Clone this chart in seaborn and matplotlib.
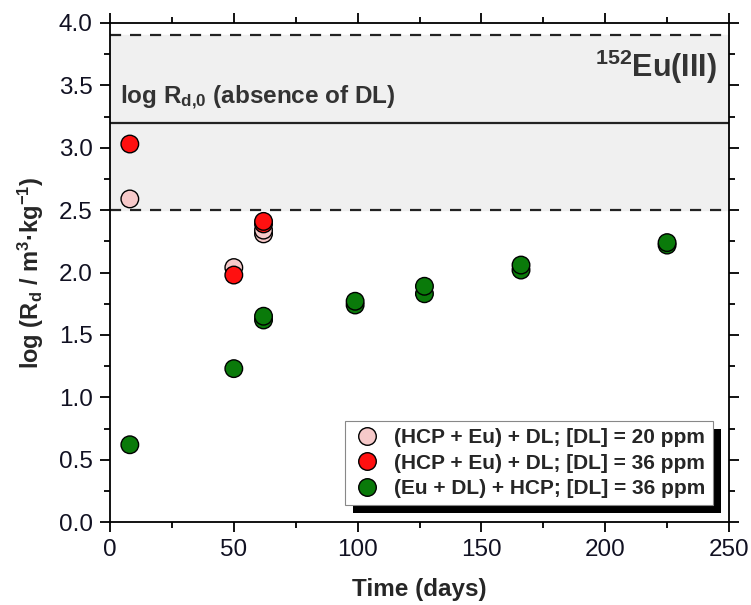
import numpy as np
import pandas as pd
import matplotlib
matplotlib.use("Agg")
import matplotlib.pyplot as plt
import matplotlib.patheffects as pe
from matplotlib.ticker import MultipleLocator, FormatStrFormatter
import seaborn as sns

# data
days_20 = [8, 50, 62, 62]
logrd_20 = [2.59, 2.04, 2.31, 2.34]

days_36 = [8, 50, 62, 62]
logrd_36 = [3.03, 1.98, 2.39, 2.41]

days_eu_dl = [8, 50, 62, 62, 99, 99, 127, 127, 166, 166, 225, 225]
logrd_eu_dl = [0.62, 1.23, 1.62, 1.65, 1.74, 1.77, 1.83, 1.89, 2.02, 2.06, 2.22, 2.24]

series_labels = ["(HCP + Eu) + DL; [DL] = 20 ppm",
                 "(HCP + Eu) + DL; [DL] = 36 ppm",
                 "(Eu + DL) + HCP; [DL] = 36 ppm"]
series_colors = ["#f6c9c9", "#ff1010", "#0a7a0a"]

band_low, band_mid, band_high = 2.5, 3.2, 3.9

df = pd.concat([
    pd.DataFrame({"time": days_20, "logrd": logrd_20, "series": series_labels[0]}),
    pd.DataFrame({"time": days_36, "logrd": logrd_36, "series": series_labels[1]}),
    pd.DataFrame({"time": days_eu_dl, "logrd": logrd_eu_dl, "series": series_labels[2]}),
], ignore_index=True)

sns.set_style("ticks")
plt.rcParams["font.family"] = ["Liberation Sans", "DejaVu Sans"]
plt.rcParams["mathtext.fontset"] = "custom"
plt.rcParams["mathtext.rm"] = "Liberation Sans:bold"
plt.rcParams["mathtext.bf"] = "Liberation Sans:bold"
plt.rcParams["mathtext.default"] = "bf"

fig = plt.figure(figsize=(7.51, 6.05), dpi=100)
ax = fig.add_axes([0.1465, 0.137, 0.8242, 0.825])

# shaded range of log Rd,0
ax.axhspan(band_low, band_high, color="#f0f0f0", zorder=0)
ax.axhline(band_low, color="#222222", ls=(0, (5, 4)), lw=1.6, zorder=1)
ax.axhline(band_high, color="#222222", ls=(0, (5, 4)), lw=1.6, zorder=1)
ax.axhline(band_mid, color="#222222", lw=1.6, zorder=1)

sns.scatterplot(data=df, x="time", y="logrd", hue="series", hue_order=series_labels,
                palette=series_colors, s=160, edgecolor="black", linewidth=1.0,
                ax=ax, zorder=3)

ax.set_xlim(0, 250)
ax.set_ylim(0, 4.0)
ax.xaxis.set_major_locator(MultipleLocator(50))
ax.xaxis.set_minor_locator(MultipleLocator(25))
ax.yaxis.set_major_locator(MultipleLocator(0.5))
ax.yaxis.set_minor_locator(MultipleLocator(0.25))
ax.yaxis.set_major_formatter(FormatStrFormatter("%.1f"))
ax.tick_params(which="both", direction="out", top=True, right=True,
               labeltop=False, labelright=False, width=1.3, color="black")
ax.tick_params(which="major", length=7.5, labelsize=17.5, pad=5, labelcolor="#111122")
ax.tick_params(which="minor", length=4)
for sp in ax.spines.values():
    sp.set_linewidth(1.3)
    sp.set_color("black")

ax.set_xlabel("Time (days)", fontsize=17.5, fontweight="bold", labelpad=12)
ax.set_ylabel(r"log (R$_{d}$ / m$^{3}$·kg$^{-1}$)", fontsize=17, fontweight="bold", labelpad=9)

ax.text(4, 3.40, r"log R$_{d{,}0}$ (absence of DL)", fontsize=17.5, fontweight="bold",
        color="#333333", va="center", ha="left")
ax.text(245, 3.65, r"$^{152}$Eu(III)", fontsize=22, fontweight="bold",
        color="#333333", va="center", ha="right")

leg = ax.legend(loc="lower right", bbox_to_anchor=(0.974, 0.034), borderaxespad=0,
                frameon=True, fancybox=False, fontsize=15, handletextpad=0.6,
                labelspacing=0.3, borderpad=0.35, handlelength=1.4,
                markerscale=1.0)
for t in leg.get_texts():
    t.set_fontweight("bold")
frame = leg.get_frame()
frame.set_edgecolor("#888888")
frame.set_linewidth(0.8)
frame.set_facecolor("white")
frame.set_alpha(1)
frame.set_path_effects([pe.SimplePatchShadow(offset=(5.5, -5.5), shadow_rgbFace="black", alpha=1.0),
                        pe.Normal()])

fig.savefig("out.png", dpi=100)
